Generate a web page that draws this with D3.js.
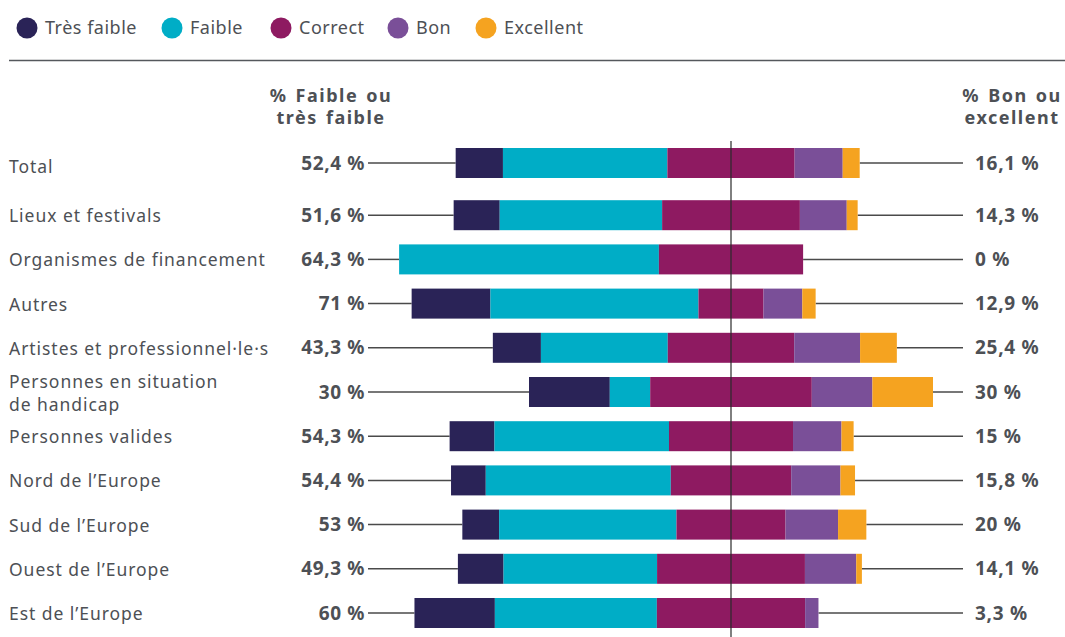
<!DOCTYPE html>
<html>
<head>
<meta charset="utf-8">
<script src="https://cdn.jsdelivr.net/npm/d3@7"></script>
<style>
	body { margin: 0; background: #fff; }
	svg text { font-family: "Noto Sans", sans-serif; fill: #4d5055; }
</style>
</head>
<body>
<div id="chart"></div>
<script>
// Data (% of answers)
var categories = ["Total", "Lieux et festivals", "Organismes de financement", "Autres",
	"Artistes et professionnel·le·s", "Personnes en situation\nde handicap", "Personnes valides",
	"Nord de l’Europe", "Sud de l’Europe", "Ouest de l’Europe", "Est de l’Europe"]
var tresFaible = [11.7, 11.4, 0, 19.5, 11.9, 20, 11.1, 8.6, 9.1, 11.3, 19.9]
var faible = [40.7, 40.2, 64.3, 51.5, 31.4, 10, 43.2, 45.8, 43.9, 38.0, 40.1]
var correct = [31.5, 34.1, 35.7, 16.1, 31.3, 40, 30.7, 29.8, 27, 36.6, 36.7]
var bon = [11.9, 11.6, 0, 9.6, 16.3, 15, 12, 12.2, 13, 12.7, 3.3]
var excellent = [4.2, 2.7, 0, 3.3, 9.1, 15, 3, 3.6, 7, 1.4, 0]
var labelsFaible = ["52,4 %", "51,6 %", "64,3 %", "71 %", "43,3 %", "30 %", "54,3 %", "54,4 %", "53 %", "49,3 %", "60 %"]
var labelsBon = ["16,1 %", "14,3 %", "0 %", "12,9 %", "25,4 %", "30 %", "15 %", "15,8 %", "20 %", "14,1 %", "3,3 %"]
var levels = ["Très faible", "Faible", "Correct", "Bon", "Excellent"]
var colors = ["#2a2357", "#00adc6", "#8e1a61", "#7a4f98", "#f5a320"]

var width = 1065, height = 637

var svg = d3.select("#chart")
	.append("svg")
		.attr("width", width)
		.attr("height", height)

// Legend
var legendX = [27, 172, 281, 398, 486]
var legend = svg.append("g")
levels.forEach((lv, i) => {
	legend.append("circle")
		.attr("cx", legendX[i])
		.attr("cy", 28)
		.attr("r", 10.5)
		.attr("fill", colors[i])
	legend.append("text")
		.attr("x", legendX[i] + 18)
		.attr("y", 34)
		.style("font-size", "18px")
		.style("letter-spacing", "0.5px")
		.text(lv)
})
svg.append("line")
	.attr("x1", 9).attr("x2", width)
	.attr("y1", 60.5).attr("y2", 60.5)
	.attr("stroke", "#55585c")
	.attr("stroke-width", 1.5)

// Scales
var center = 731
var xScale = d3.scaleLinear()
	.domain([-50, 50])
	.range([center - 202, center + 202])
var yPoint = d3.scalePoint()
	.domain(categories)
	.range([163, 605])
// Total is set apart from the other rows by a small extra gap
var yRow = (c, i) => yPoint(c) + (i > 0 ? 8 : 0)
var barH = 30

// Build stacked segments, centred on the middle of "Correct"
var rows = categories.map((c, i) => {
	var vals = [tresFaible[i], faible[i], correct[i], bon[i], excellent[i]]
	var start = -(tresFaible[i] + faible[i] + correct[i] / 2)
	var segs = []
	vals.forEach((v, k) => {
		segs.push({ k: k, x0: start, x1: start + v })
		start += v
	})
	return { cat: c, i: i, segs: segs, left: segs[0].x0, right: segs[4].x1 }
})

// Leader lines
var leaders = svg.append("g")
rows.forEach(r => {
	var y = yRow(r.cat, r.i)
	leaders.append("line")
		.attr("x1", 368).attr("x2", xScale(r.left))
		.attr("y1", y).attr("y2", y)
		.attr("stroke", "#4a4a4a").attr("stroke-width", 1.5)
	leaders.append("line")
		.attr("x1", xScale(r.right)).attr("x2", 963)
		.attr("y1", y).attr("y2", y)
		.attr("stroke", "#4a4a4a").attr("stroke-width", 1.5)
})

// Bars
var bars = svg.selectAll(".row")
	.data(rows)
	.enter().append("g")
		.attr("class", "row")
		.attr("transform", d => "translate(0," + (yRow(d.cat, d.i) - barH / 2) + ")")
bars.selectAll("rect")
	.data(d => d.segs.filter(s => s.x1 > s.x0))
	.enter().append("rect")
		.attr("x", s => xScale(s.x0))
		.attr("width", s => xScale(s.x1) - xScale(s.x0))
		.attr("height", barH)
		.attr("fill", s => colors[s.k])

// Centre line
svg.append("line")
	.attr("x1", xScale(0)).attr("x2", xScale(0))
	.attr("y1", 141).attr("y2", height)
	.attr("stroke", "#2b2b2b").attr("stroke-width", 1.2)

// Category labels
rows.forEach(r => {
	var y = yRow(r.cat, r.i)
	var lines = r.cat.split("\n")
	var t = svg.append("text")
		.attr("x", 9)
		.attr("y", y + 7 + (r.i == 0 ? 3 : 0) - (lines.length - 1) * 11.5)
		.style("font-size", "17.5px")
		.style("letter-spacing", "0.95px")
	lines.forEach((l, j) => {
		t.append("tspan").attr("x", 9).attr("dy", j ? 23 : 0).text(l)
	})
	svg.append("text")
		.attr("x", 365)
		.attr("y", y + 6.5)
		.attr("text-anchor", "end")
		.style("font-size", "19px")
		.style("font-weight", "bold")
		.style("letter-spacing", "0.6px")
		.text(labelsFaible[r.i])
	svg.append("text")
		.attr("x", 975)
		.attr("y", y + 6.5)
		.style("font-size", "19px")
		.style("font-weight", "bold")
		.style("letter-spacing", "0.7px")
		.text(labelsBon[r.i])
})

// Column headers
var heads = [
	{ x: 331, lines: ["% Faible ou", "très faible"] },
	{ x: 1012, lines: ["% Bon ou", "excellent"] }
]
heads.forEach(h => {
	h.lines.forEach((l, j) => {
		svg.append("text")
			.attr("x", h.x)
			.attr("y", 102 + j * 22)
			.attr("text-anchor", "middle")
			.style("font-size", "18px")
			.style("font-weight", "bold")
			.style("letter-spacing", "1.5px")
			.style("word-spacing", "2px")
			.text(l)
	})
})
</script>
</body>
</html>
